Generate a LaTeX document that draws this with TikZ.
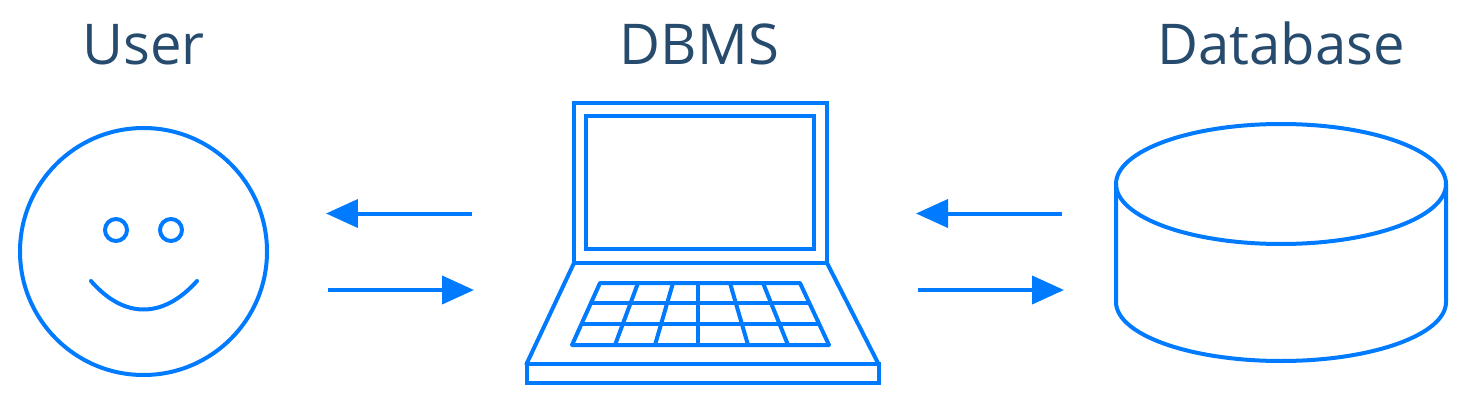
\documentclass[tikz,border=0pt]{standalone}
\usepackage{fontspec}
\setmainfont{Open Sans}
\usetikzlibrary{arrows.meta,positioning,shapes.geometric}
\definecolor{iconblue}{HTML}{007BFF}
\definecolor{titleblue}{HTML}{274B6D}
\tikzset{
  >=Stealth,
  icon/.style={draw=iconblue, line width=0.08cm, line join=round, line cap=round},
  part/.style={rectangle, draw=iconblue, line width=0.08cm, inner sep=0pt, outer sep=0pt},
  ttl/.style={font=\fontsize{32}{36}\selectfont, text=titleblue, anchor=base, inner sep=0pt},
  flow/.style={draw=iconblue, line width=0.08cm, -{Triangle[length=0.64cm, width=0.56cm, fill=iconblue]}}
}
\begin{document}
\begin{tikzpicture}[x=0.02cm, y=-0.02cm]
    \def\u{0.02cm}
    \useasboundingbox (0,0) rectangle (1474,402);

    % --- Titles ---
    \node[ttl] (userttl) at (143.5,65) {User};
    \node[ttl] (dbmsttl) at (699.5,65) {DBMS};
    \node[ttl] (dbttl) at (1281,65) {Database};

    % --- User ---
    \node[part, circle, minimum size=247*\u] (face) at (143.5,251.5) {};
    \node[part, circle, minimum size=22*\u] (eyeL) at (116,230) {};
    \node[part, circle, minimum size=22*\u] (eyeR) at (171,230) {};
    \draw[icon] (91,281) .. controls (124,319) and (163,319) .. (197,281);

    % --- DBMS: screen ---
    \node[part, minimum width=253*\u, minimum height=160*\u] (screen) at (700.5,183) {};
    \node[part, minimum width=228*\u, minimum height=133*\u] (panel) at (700,182.5) {};

    % --- DBMS: base ---
    \node[part, minimum width=352*\u, minimum height=19*\u] (front) at (702.5,373.5) {};
    \draw[icon] (screen.south west) -- (front.north west);
    \draw[icon] (screen.south east) -- (front.north east);

    % --- DBMS: keyboard ---
    \draw[icon] (600,283) -- (800,283) -- (829,345) -- (572,345) -- cycle;
    \draw[icon] (591,303) -- (808,303);
    \draw[icon] (582,324) -- (819,324);
    \foreach \xa/\xb in {638/615, 673/655, 698/698, 730/748, 763/788}
        \draw[icon] (\xa,283) -- (\xb,345);

    % --- Database ---
    \node[part, ellipse, minimum width=330*\u, minimum height=120*\u] (dbtop) at (1281,184) {};
    \coordinate (dbL) at (1116,302);
    \coordinate (dbR) at (1446,302);
    \draw[icon] (dbtop.west) -- (dbL) arc[start angle=180, end angle=360, x radius=165, y radius=-59] -- (dbtop.east);

    % --- Arrows ---
    \coordinate (a1s) at (472,213.5);
    \coordinate (a1e) at (326,213.5);
    \coordinate (a2s) at (328,290);
    \coordinate (a2e) at (474,290);
    \coordinate (b1s) at (1062,213.5);
    \coordinate (b1e) at (916,213.5);
    \coordinate (b2s) at (918,290);
    \coordinate (b2e) at (1064,290);
    \draw[flow] (a1s) -- (a1e);
    \draw[flow] (a2s) -- (a2e);
    \draw[flow] (b1s) -- (b1e);
    \draw[flow] (b2s) -- (b2e);
\end{tikzpicture}
\end{document}
